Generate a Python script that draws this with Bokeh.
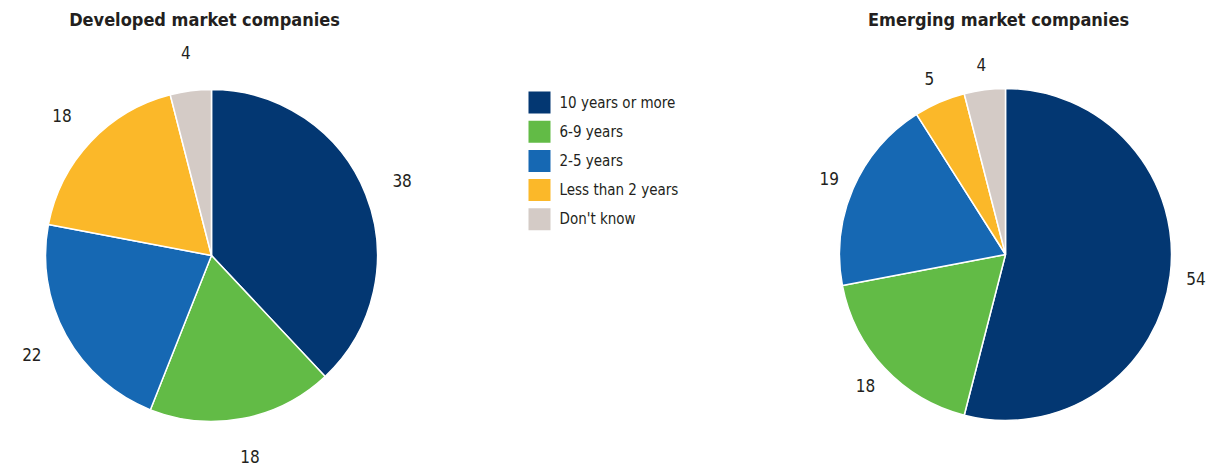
import math
from bokeh.plotting import figure
from bokeh.models import Range1d, ColumnDataSource
from bokeh.core.properties import value
from bokeh.embed import file_html
from bokeh.resources import INLINE

categories = ["10 years or more", "6-9 years", "2-5 years", "Less than 2 years", "Don't know"]
colors = ["#033772", "#62bb46", "#1668b3", "#fbb829", "#d4cbc6"]
developed = [38, 18, 22, 18, 4]
emerging = [54, 18, 19, 5, 4]
titles = ["Developed market companies", "Emerging market companies"]

W, H = 1214, 467
FONT = "DejaVu Sans Condensed"
TXT = "#231f20"

p = figure(width=W, height=H, output_backend="svg", toolbar_location=None,
           x_range=Range1d(0, W), y_range=Range1d(0, H), min_border=0)
p.axis.visible = False
p.grid.visible = False
p.outline_line_color = None
p.background_fill_color = "white"
p.border_fill_color = "white"

R = 166
pies = [(211, H - 255, developed, 205), (1005, H - 254, emerging, 192)]

for (cx, cy, vals, LR), title in zip(pies, titles):
    total = float(sum(vals))
    starts, ends, lx, ly, labs = [], [], [], [], []
    cum = 0.0
    for v in vals:
        a0 = math.pi / 2 - 2 * math.pi * cum / total
        a1 = math.pi / 2 - 2 * math.pi * (cum + v) / total
        mid = (a0 + a1) / 2
        starts.append(a0)
        ends.append(a1)
        lx.append(cx + LR * math.cos(mid))
        ly.append(cy + LR * math.sin(mid))
        labs.append(str(v))
        cum += v
    src = ColumnDataSource(dict(start=starts, end=ends, color=colors))
    p.wedge(x=cx, y=cy, radius=R, start_angle="start", end_angle="end",
            direction="clock", fill_color="color", line_color="white",
            line_width=1.5, source=src)
    p.text(x=lx, y=ly, text=labs, text_font=value(FONT), text_font_size="17px",
           text_color=TXT, text_align="center", text_baseline="middle")
    p.text(x=[cx - 7], y=[H - 19], text=[title], text_font=value(FONT),
           text_font_size="18px", text_font_style="bold", text_color=TXT,
           text_align="center", text_baseline="middle")

# legend
lx0 = 539
ly0 = H - 102
step = 29.2
ys = [ly0 - i * step for i in range(len(categories))]
p.rect(x=[lx0] * len(categories), y=ys, width=22, height=22, fill_color=colors,
       line_color=None)
p.text(x=[559] * len(categories), y=ys, text=categories, text_font=value(FONT),
       text_font_size="15px", text_color=TXT, text_align="left",
       text_baseline="middle")

open("out.html", "w").write(file_html(p, INLINE))
